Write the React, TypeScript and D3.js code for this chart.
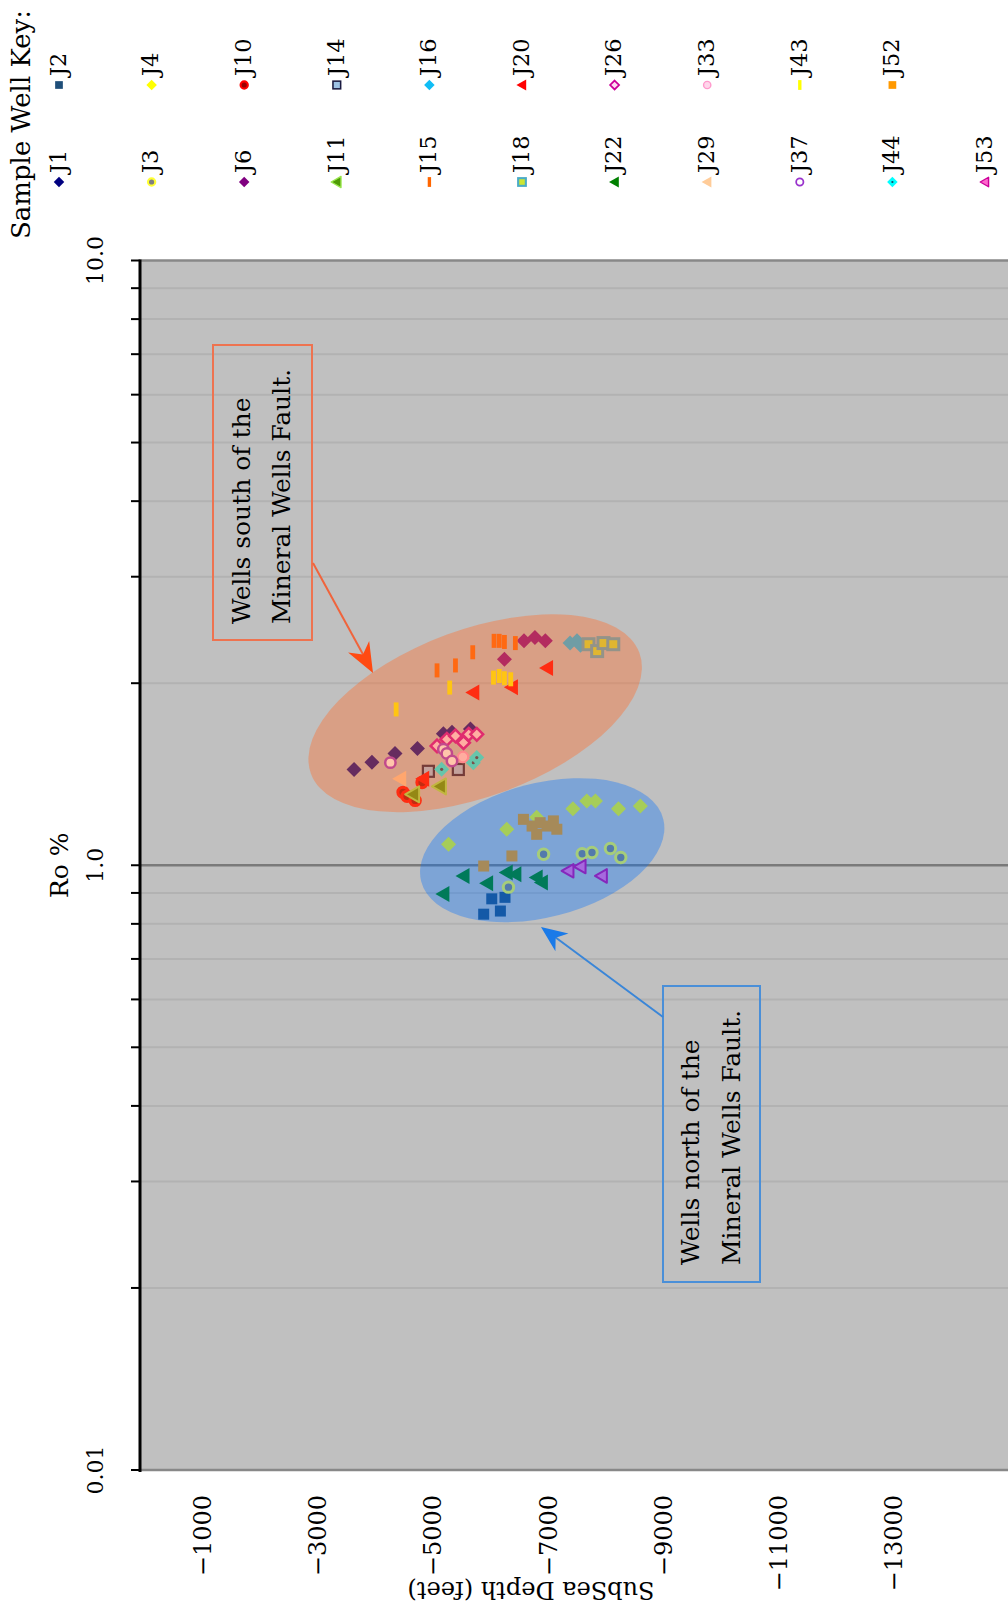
import React from "react";
import * as d3 from "d3";

// Each sample: [subsea depth (ft), vitrinite reflectance Ro %]
type Sample = [number, number];

const J1: Sample[] = [[-3630, 1.44], [-3940, 1.48], [-4340, 1.53], [-4730, 1.56], [-5180, 1.65], [-5330, 1.66], [-5650, 1.68]];
const J2: Sample[] = [[-5880, 0.83], [-6020, 0.88], [-6170, 0.84], [-6250, 0.885]];
const J3: Sample[] = [[-6920, 1.043], [-7590, 1.045], [-7760, 1.05], [-8080, 1.066], [-8260, 1.03], [-6310, 0.92]];
const J4: Sample[] = [[-5270, 1.083], [-6280, 1.147], [-6800, 1.2], [-7430, 1.24], [-7670, 1.277], [-7820, 1.277], [-8220, 1.24], [-8600, 1.253]];
const J6: Sample[] = [[-6240, 2.19], [-6580, 2.35], [-6770, 2.38], [-6950, 2.35]];
const J10: Sample[] = [[-4480, 1.32], [-4550, 1.3], [-4690, 1.28], [-4810, 1.37]];
const J11: Sample[] = [[-4655, 1.31], [-5120, 1.35]];
const J14: Sample[] = [[-4920, 1.43], [-5440, 1.44]];
const J15: Sample[] = [[-5070, 2.1], [-5390, 2.14], [-5690, 2.25], [-6060, 2.35], [-6150, 2.35], [-6240, 2.34], [-6430, 2.33]];
const J16: Sample[] = [[-7380, 2.33], [-7500, 2.35], [-7560, 2.31]];
const J18: Sample[] = [[-7700, 2.32], [-7850, 2.26], [-7960, 2.33], [-8130, 2.32]];
const J20: Sample[] = [[-4830, 1.39], [-5700, 1.93], [-6370, 1.97], [-6980, 2.12]];
const J22: Sample[] = [[-5530, 0.96], [-5180, 0.896], [-5940, 0.934], [-6280, 0.973], [-6430, 0.966], [-6800, 0.954], [-6890, 0.936]];
const J26: Sample[] = [[-5070, 1.575], [-5240, 1.615], [-5390, 1.636], [-5530, 1.595], [-5620, 1.646], [-5760, 1.646]];
const J29: Sample[] = [[-4430, 1.39]];
const J33: Sample[] = [[-5520, 1.51]];
const J37: Sample[] = [[-4260, 1.478], [-5180, 1.555], [-5240, 1.531], [-5330, 1.487]];
const J43: Sample[] = [[-4360, 1.81], [-5290, 1.967], [-6050, 2.043], [-6150, 2.056], [-6240, 2.038], [-6350, 2.03]];
const J44: Sample[] = [[-5150, 1.441], [-5700, 1.478], [-5760, 1.507]];
const J52: Sample[] = [[-6570, 1.191], [-6720, 1.161], [-6860, 1.176], [-6980, 1.161], [-7090, 1.184], [-7150, 1.147], [-6800, 1.125], [-6370, 1.036], [-5880, 0.997]];
const J53: Sample[] = [[-7350, 0.979], [-7560, 0.995], [-7930, 0.96]];

const wellKeys = ["J1", "J2", "J3", "J4", "J6", "J10", "J11", "J14", "J15", "J16", "J18", "J20", "J22", "J26", "J29", "J33", "J37", "J43", "J44", "J52", "J53"];
const wellSamples = [J1, J2, J3, J4, J6, J10, J11, J14, J15, J16, J18, J20, J22, J26, J29, J33, J37, J43, J44, J52, J53];

const depthTicks = [-1000, -3000, -5000, -7000, -9000, -11000, -13000];
const roTickValues = [0.1, 1, 10];
const roTickLabels = ["0.01", "1.0", "10.0"];

type Shape = "diamond" | "square" | "circle" | "triangle" | "dash";
interface MarkerStyle { shape: Shape; fill: string; stroke?: string; sw?: number; dot?: string; k?: number }

const wellStyles: MarkerStyle[] = [
  { shape: "diamond", fill: "#000080" },
  { shape: "square", fill: "#1F4E79" },
  { shape: "circle", fill: "#808080", stroke: "#FFFF33", sw: 3 },
  { shape: "diamond", fill: "#FFFF00" },
  { shape: "diamond", fill: "#800080" },
  { shape: "circle", fill: "#990000", stroke: "#FF0000", sw: 3 },
  { shape: "triangle", fill: "#4E9A06", stroke: "#99E64D", sw: 2 },
  { shape: "square", fill: "#9DC3E6", stroke: "#1A1A40", sw: 2.2 },
  { shape: "dash", fill: "#FF6600" },
  { shape: "diamond", fill: "#10BDF5" },
  { shape: "square", fill: "#CCE633", stroke: "#4BACC6", sw: 3 },
  { shape: "triangle", fill: "#FF0000" },
  { shape: "triangle", fill: "#008000" },
  { shape: "diamond", fill: "#FFD9F0", stroke: "#CC0099", sw: 2.5, k: 0.85 },
  { shape: "triangle", fill: "#FFCC99" },
  { shape: "circle", fill: "#FFD6EB", stroke: "#FF99CC", sw: 2 },
  { shape: "circle", fill: "#FFFFFF", stroke: "#9933CC", sw: 2.5 },
  { shape: "dash", fill: "#FFFF00" },
  { shape: "diamond", fill: "#00FFFF", dot: "#1F3F5F" },
  { shape: "square", fill: "#FF9900" },
  { shape: "triangle", fill: "#FF66CC", stroke: "#CC0099", sw: 2, k: 0.85 },
];

function Marker({ st, cx, cy, s }: { st: MarkerStyle; cx: number; cy: number; s: number }) {
  const sz = s * (st.k ?? 1);
  const sw = (st.sw ?? 0) * s;
  const stroke = st.stroke ?? "none";
  let body: React.ReactNode = null;
  if (st.shape === "diamond") {
    const r = 7.5 * sz;
    body = <path d={`M${cx},${cy - r}L${cx + r},${cy}L${cx},${cy + r}L${cx - r},${cy}Z`} fill={st.fill} stroke={stroke} strokeWidth={sw} />;
  } else if (st.shape === "square") {
    const h = 5.5 * sz;
    body = <rect x={cx - h} y={cy - h} width={2 * h} height={2 * h} fill={st.fill} stroke={stroke} strokeWidth={sw} />;
  } else if (st.shape === "circle") {
    body = <circle cx={cx} cy={cy} r={5.2 * sz} fill={st.fill} stroke={stroke} strokeWidth={sw} />;
  } else if (st.shape === "triangle") {
    // points toward shallower depths on screen (left)
    const a = 8 * sz;
    body = <path d={`M${cx - a},${cy}L${cx + 0.75 * a},${cy - a}L${cx + 0.75 * a},${cy + a}Z`} fill={st.fill} stroke={stroke} strokeWidth={sw} strokeLinejoin="round" />;
  } else {
    body = <rect x={cx - 2.4 * sz} y={cy - 7 * sz} width={4.8 * sz} height={14 * sz} fill={st.fill} />;
  }
  return (
    <g>
      {body}
      {st.dot ? <circle cx={cx} cy={cy} r={1.6 * s} fill={st.dot} /> : null}
    </g>
  );
}

function arrowHead(x0: number, y0: number, x1: number, y1: number, len: number, half: number) {
  const dx = x1 - x0, dy = y1 - y0;
  const L = Math.hypot(dx, dy);
  const ux = dx / L, uy = dy / L;
  const px = -uy, py = ux;
  const bx = x1 - ux * len, by = y1 - uy * len;
  const nx = x1 - ux * len * 0.7, ny = y1 - uy * len * 0.7;
  return `M${x1},${y1}L${bx + px * half},${by + py * half}L${nx},${ny}L${bx - px * half},${by - py * half}Z`;
}

export default function App() {
  const plotLeft = 140, plotRight = 1008, plotTop = 260.5, plotBottom = 1470;
  const x = d3.scaleLinear().domain([0, -15000]).range([145, 1009]);
  const y = d3.scaleLog().domain([0.1, 10]).range([plotBottom, plotTop]);
  const grid = y.ticks();
  const isMajor = (v: number) => roTickValues.some((t) => Math.abs(t - v) < 1e-9);
  const fmt = d3.format("d");

  const legendX = (i: number) => 59 + i * 92.6;

  const south = { depth: -5732, ro: 1.784, rx: 175, ry: 83.5, angle: -20.2 };
  const north = { depth: -6896, ro: 1.059, rx: 125, ry: 67, angle: -14.5 };

  const orangeArrow = { x0: 313, y0: 563, x1: 373, y1: 673 };
  const blueArrow = { x0: 663, y0: 1017, x1: 541, y1: 927 };

  const font = "'DejaVu Serif', serif";

  return (
    <svg width={1008} height={1615} style={{ position: "absolute", left: 0, top: 0, display: "block", background: "#ffffff" }} fontFamily={font}>
      {/* plot area */}
      <rect x={plotLeft} y={plotTop} width={plotRight - plotLeft} height={plotBottom - plotTop} fill="#C0C0C0" />
      {grid.filter((v) => !isMajor(v)).map((v, i) => (
        <line key={i} x1={plotLeft} x2={plotRight} y1={y(v)} y2={y(v)} stroke="#B2B2B2" strokeWidth={2} />
      ))}
      <line x1={plotLeft} x2={plotRight} y1={y(1)} y2={y(1)} stroke="#7A7A7A" strokeWidth={2.5} />
      <line x1={plotLeft} x2={plotRight} y1={y(10)} y2={y(10)} stroke="#888888" strokeWidth={2.5} />
      <line x1={plotLeft} x2={plotRight} y1={y(0.1)} y2={y(0.1)} stroke="#888888" strokeWidth={2.5} />

      {/* samples */}
      {wellSamples.map((samples, wi) => (
        <g key={wellKeys[wi]}>
          {samples.map((d, i) => (
            <Marker key={i} st={wellStyles[wi]} cx={x(d[0])} cy={y(d[1])} s={1} />
          ))}
        </g>
      ))}

      {/* fault-side groupings */}
      <ellipse cx={0} cy={0} rx={south.rx} ry={south.ry} transform={`translate(${x(south.depth)},${y(south.ro)}) rotate(${south.angle})`} fill="#FF6E2D" fillOpacity={0.4} />
      <ellipse cx={0} cy={0} rx={north.rx} ry={north.ry} transform={`translate(${x(north.depth)},${y(north.ro)}) rotate(${north.angle})`} fill="#0070FF" fillOpacity={0.35} />

      {/* Ro axis */}
      <line x1={plotLeft} x2={plotLeft} y1={plotTop - 1} y2={plotBottom + 2} stroke="#000" strokeWidth={3} />
      {grid.map((v, i) => (
        <line key={i} x1={plotLeft - 9} x2={plotLeft} y1={y(v)} y2={y(v)} stroke="#000" strokeWidth={2} />
      ))}
      {roTickValues.map((v, i) => (
        <text key={i} transform={`translate(95,${y(v)}) rotate(-90)`} textAnchor="middle" dy="0.35em" fontSize={22} fill="#000">
          {roTickLabels[i]}
        </text>
      ))}
      <text transform={`translate(59,${y(1)}) rotate(-90)`} textAnchor="middle" dy="0.35em" fontSize={25} fill="#000">Ro %</text>

      {/* depth axis */}
      {depthTicks.map((v) => (
        <text key={v} transform={`translate(${x(v)},1495) rotate(-90)`} textAnchor="end" dy="0.35em" fontSize={24} fill="#000">
          {fmt(v)}
        </text>
      ))}
      <text transform="translate(531,1590) rotate(180)" textAnchor="middle" dy="0.35em" fontSize={24} fill="#000">SubSea Depth (feet)</text>

      {/* legend */}
      <text transform="translate(21,239) rotate(-90)" dy="0.35em" fontSize={26} fill="#000">Sample Well Key:</text>
      {wellKeys.map((k, i) => {
        const cx = legendX(Math.floor(i / 2));
        const my = i % 2 === 0 ? 182 : 85;
        return (
          <g key={k}>
            <Marker st={wellStyles[i]} cx={cx} cy={my} s={0.7} />
            <text transform={`translate(${cx - 1},${my - 9}) rotate(-90)`} dy="0.35em" fontSize={22.5} fill="#000">{k}</text>
          </g>
        );
      })}

      {/* annotations */}
      <rect x={213} y={345} width={99} height={295} fill="none" stroke="#EE7350" strokeWidth={2} />
      <text transform="translate(241.7,624) rotate(-90)" dy="0.35em" fontSize={25} fill="#000">Wells south of the</text>
      <text transform="translate(281.7,624) rotate(-90)" dy="0.35em" fontSize={25} fill="#000">Mineral Wells Fault.</text>
      <line x1={orangeArrow.x0} y1={orangeArrow.y0} x2={orangeArrow.x1 - 8} y2={orangeArrow.y1 - 15} stroke="#F0643C" strokeWidth={2} />
      <path d={arrowHead(orangeArrow.x0, orangeArrow.y0, orangeArrow.x1, orangeArrow.y1, 30, 12)} fill="#FF4A12" />

      <rect x={663} y={986} width={97} height={296} fill="none" stroke="#4A8FD8" strokeWidth={2} />
      <text transform="translate(690,1265) rotate(-90)" dy="0.35em" fontSize={25} fill="#000">Wells north of the</text>
      <text transform="translate(731.7,1265) rotate(-90)" dy="0.35em" fontSize={25} fill="#000">Mineral Wells Fault.</text>
      <line x1={blueArrow.x0} y1={blueArrow.y0} x2={blueArrow.x1 + 14} y2={blueArrow.y1 + 10} stroke="#3A86D8" strokeWidth={2} />
      <path d={arrowHead(blueArrow.x0, blueArrow.y0, blueArrow.x1, blueArrow.y1, 26, 11)} fill="#1A7AE8" />
    </svg>
  );
}
